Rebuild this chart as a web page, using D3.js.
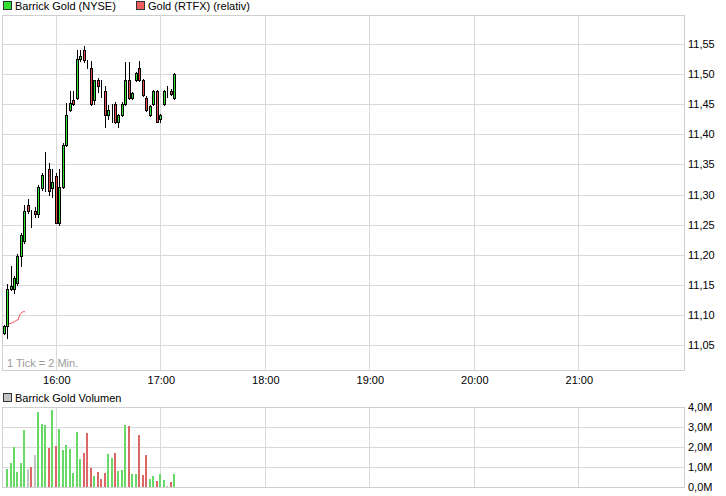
<!DOCTYPE html>
<html><head><meta charset="utf-8">
<script src="https://cdn.jsdelivr.net/npm/d3@7"></script>
<style>
html,body{margin:0;padding:0;background:#fff;}
svg{display:block;font-family:"Liberation Sans",Arial,sans-serif;}
</style></head><body>
<svg id="c" width="726" height="496"></svg>
<script>
// ---- data ----
const times = ["15:30","15:32","15:34","15:36","15:38","15:40","15:42","15:44","15:46","15:48",
  "15:50","15:52","15:54","15:56","15:58","16:00","16:02","16:04","16:06","16:08",
  "16:10","16:12","16:14","16:16","16:18","16:20","16:22","16:24","16:26","16:28",
  "16:30","16:32","16:34","16:36","16:38","16:40","16:42","16:44","16:46","16:48",
  "16:50","16:52","16:54","16:56","16:58","17:00","17:02","17:04","17:06","17:08"];
const opens  = [11.070,11.082,11.143,11.143,11.153,11.198,11.222,11.283,11.268,11.273,
  11.267,11.311,11.332,11.343,11.311,11.331,11.252,11.313,11.382,11.441,
  11.457,11.461,11.525,11.540,11.518,11.510,11.457,11.491,11.471,11.472,
  11.432,11.442,11.451,11.421,11.432,11.451,11.490,11.461,11.490,11.510,
  11.490,11.461,11.432,11.451,11.472,11.425,11.451,11.471,11.472,11.461];
const highs  = [11.083,11.151,11.182,11.165,11.202,11.236,11.283,11.293,11.274,11.280,
  11.315,11.335,11.371,11.352,11.342,11.335,11.342,11.385,11.452,11.472,
  11.472,11.540,11.540,11.546,11.523,11.521,11.490,11.493,11.491,11.480,
  11.448,11.451,11.453,11.434,11.453,11.520,11.520,11.470,11.504,11.521,
  11.492,11.463,11.449,11.474,11.474,11.434,11.474,11.480,11.475,11.502];
const lows   = [11.068,11.061,11.141,11.136,11.150,11.182,11.220,11.270,11.246,11.262,
  11.262,11.308,11.306,11.300,11.296,11.252,11.250,11.310,11.380,11.438,
  11.449,11.458,11.522,11.520,11.510,11.448,11.451,11.471,11.462,11.412,
  11.425,11.421,11.418,11.412,11.430,11.449,11.458,11.459,11.488,11.488,
  11.463,11.438,11.430,11.449,11.421,11.421,11.449,11.462,11.465,11.459];
const closes = [11.082,11.143,11.148,11.162,11.198,11.233,11.273,11.272,11.268,11.267,
  11.313,11.332,11.332,11.306,11.321,11.252,11.313,11.382,11.432,11.452,
  11.451,11.525,11.530,11.523,11.518,11.451,11.490,11.480,11.471,11.432,
  11.440,11.442,11.421,11.432,11.451,11.490,11.461,11.468,11.502,11.490,
  11.465,11.440,11.447,11.472,11.421,11.432,11.472,11.471,11.467,11.500];
const volumes = [0,0.9,1.2,2.0,0.75,1.2,2.85,0.9,1.0,1.6,
  3.75,3.15,3.1,1.95,3.85,2.05,2.9,1.85,2.1,1.9,
  0.7,2.75,1.4,1.7,2.7,0.95,0.55,0.75,0.4,0.7,
  1.65,1.45,1.7,0.8,0.85,3.1,3.05,0.65,0.65,2.6,
  0.6,1.6,0.4,0.55,0.3,0.65,0.35,0.05,0.25,0.65]; // millions
const volumeDir = ["n","u","u","u","u","u","u","n","d","n",
  "u","u","u","d","u","d","u","u","u","u",
  "u","u","u","d","d","d","u","d","d","d",
  "u","u","d","u","u","u","d","u","u","d",
  "d","d","u","u","d","u","u","n","d","u"];
const goldTimes  = ["15:32","15:33","15:34","15:35","15:36","15:37","15:38","15:39","15:40","15:41","15:42"];
const goldValues = [11.0844,11.0852,11.0861,11.0877,11.0887,11.0910,11.0915,11.0998,11.1040,11.1053,11.1053];
const priceTicks = [11.05,11.10,11.15,11.20,11.25,11.30,11.35,11.40,11.45,11.50,11.55];
const volumeTicks = [0,1,2,3,4];
const hourTicks = ["16:00","17:00","18:00","19:00","20:00","21:00"];
const sessionStart = "15:29", sessionEnd = "22:00";
const seriesLabels = ["Barrick Gold (NYSE)","Gold (RTFX) (relativ)"];
const volumeLabel = "Barrick Gold Volumen";
const tickNote = "1 Tick = 2 Min.";

// ---- setup ----
const parse = d3.timeParse("%H:%M");
const de = d3.formatLocale({decimal:",",thousands:".",grouping:[3],currency:["","€"]});
const fPrice = de.format(".2f"), fVol = de.format(".1f");
const svg = d3.select("#c");
const L = 2, R = 684, T = 15, B = 370, VT = 407, VB = 487;
const GRID = "#d9d9d9", FRAME = "#cfcfcf";
const UP = "#30e030", DOWN = "#e84848";
const VUP = "#66d966", VDOWN = "#dd6666", VFLAT = "#c3c3c3";

const x = d3.scaleTime().domain([parse(sessionStart), parse(sessionEnd)]).range([2.3, 683.3]);
const y = d3.scaleLinear().domain([11.0085, 11.5982]).range([B, T]);
const vy = d3.scaleLinear().domain([0, 4]).range([VB, VT]);

const px = v => Math.floor(v) + 0.5;

// gridlines main
const g = svg.append("g");
g.selectAll(".hg").data(priceTicks).join("line")
  .attr("x1", L).attr("x2", R).attr("y1", d => Math.round(y(d)) + 0.5).attr("y2", d => Math.round(y(d)) + 0.5)
  .attr("stroke", GRID);
g.selectAll(".vg").data(hourTicks).join("line")
  .attr("x1", d => px(x(parse(d)))).attr("x2", d => px(x(parse(d))))
  .attr("y1", T).attr("y2", B).attr("stroke", GRID);
// gridlines volume
g.selectAll(".hvg").data(volumeTicks).join("line")
  .attr("x1", L).attr("x2", R).attr("y1", d => Math.round(vy(d)) + 0.5).attr("y2", d => Math.round(vy(d)) + 0.5)
  .attr("stroke", GRID);
g.selectAll(".vvg").data(hourTicks).join("line")
  .attr("x1", d => px(x(parse(d)))).attr("x2", d => px(x(parse(d))))
  .attr("y1", VT).attr("y2", VB).attr("stroke", GRID);

// frames
svg.append("rect").attr("x", L + 0.5).attr("y", T + 0.5).attr("width", R - L).attr("height", B - T)
  .attr("fill", "none").attr("stroke", FRAME);
svg.append("rect").attr("x", L + 0.5).attr("y", VT + 0.5).attr("width", R - L).attr("height", VB - VT)
  .attr("fill", "none").attr("stroke", FRAME);

// note
svg.append("text").attr("x", 7).attr("y", 367).attr("font-size", 11).attr("fill", "#9a9a9a").text(tickNote);

// gold relative line
const gold = goldTimes.map((t, i) => ({t: parse(t), v: goldValues[i]}));
svg.append("path").datum(gold)
  .attr("d", d3.line().x(d => x(d.t)).y(d => y(d.v)))
  .attr("fill", "none").attr("stroke", "#f05050").attr("stroke-width", 1);

// candles
const candles = times.map((t, i) => ({t: parse(t), o: opens[i], h: highs[i], l: lows[i], c: closes[i]}));
const cg = svg.append("g");
candles.forEach(d => {
  const left = Math.round(x(d.t) - 1.5);
  cg.append("line").attr("x1", left + 1.5).attr("x2", left + 1.5)
    .attr("y1", Math.round(y(d.h))).attr("y2", Math.round(y(d.l)) + 1)
    .attr("stroke", "#000");
});
cg.selectAll("rect").data(candles).join("rect")
  .attr("x", d => Math.round(x(d.t) - 1.5) + 0.5)
  .attr("y", d => Math.round(y(Math.max(d.o, d.c))) + 0.5)
  .attr("width", 2)
  .attr("height", d => Math.round(y(Math.min(d.o, d.c))) - Math.round(y(Math.max(d.o, d.c))))
  .attr("fill", d => d.c >= d.o ? UP : DOWN)
  .attr("stroke", "#000").attr("stroke-width", 1);

// volume bars
const vols = times.map((t, i) => ({t: parse(t), v: volumes[i], dir: volumeDir[i]}));
svg.append("g").selectAll("rect").data(vols.filter(d => d.v > 0)).join("rect")
  .attr("x", d => Math.floor(x(d.t) - 1))
  .attr("y", d => vy(d.v))
  .attr("width", 2)
  .attr("height", d => vy(0) - vy(d.v))
  .attr("fill", d => d.dir === "u" ? VUP : d.dir === "d" ? VDOWN : VFLAT);

// axes
const ya = svg.append("g").attr("transform", `translate(${R},0)`)
  .call(d3.axisRight(y).tickValues(priceTicks).tickSize(0).tickPadding(4).tickFormat(fPrice));
const vya = svg.append("g").attr("transform", `translate(${R},0)`)
  .call(d3.axisRight(vy).tickValues(volumeTicks).tickSize(0).tickPadding(4).tickFormat(d => fVol(d) + "M"));
const xa = svg.append("g").attr("transform", `translate(0,${B})`)
  .call(d3.axisBottom(x).tickValues(hourTicks.map(parse)).tickSize(0).tickPadding(6).tickFormat(d3.timeFormat("%H:%M")));
[ya, vya, xa].forEach(a => {
  a.select(".domain").remove();
  a.selectAll("text").attr("font-size", 11).attr("font-family", "Liberation Sans, Arial, sans-serif").attr("fill", "#000");
});

// legends
const leg = [{x: 3, c: UP, t: seriesLabels[0]}, {x: 136, c: "#ee6060", t: seriesLabels[1]}];
leg.forEach(d => {
  svg.append("rect").attr("x", d.x + 0.5).attr("y", 1.5).attr("width", 8).attr("height", 8)
    .attr("fill", d.c).attr("stroke", "#333");
  svg.append("text").attr("x", d.x + 12).attr("y", 10).attr("font-size", 11).attr("fill", "#000").text(d.t);
});
svg.append("rect").attr("x", 3.5).attr("y", 393.5).attr("width", 8).attr("height", 8)
  .attr("fill", "#c3c3c3").attr("stroke", "#333");
svg.append("text").attr("x", 15).attr("y", 402).attr("font-size", 11).attr("fill", "#000").text(volumeLabel);
</script>
</body></html>
